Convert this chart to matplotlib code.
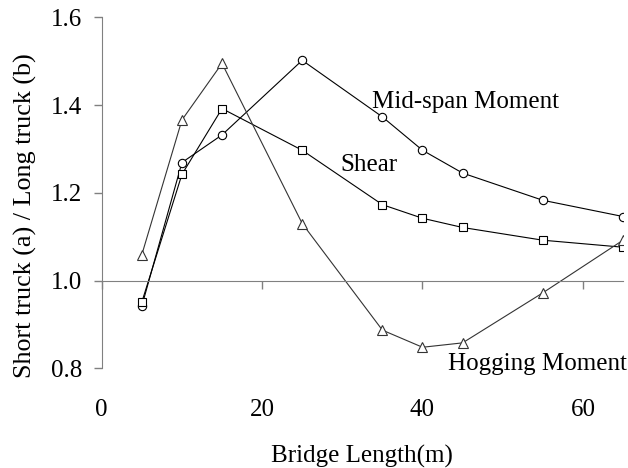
import numpy as np
import matplotlib
matplotlib.use('Agg')
import matplotlib.pyplot as plt

plt.rcParams['font.family'] = ['Liberation Serif', 'DejaVu Serif']

# bridge lengths (m)
length = [5, 10, 15, 25, 35, 40, 45, 55, 65]
# short truck / long truck ratio
midspan = [0.942, 1.269, 1.332, 1.502, 1.373, 1.297, 1.245, 1.183, 1.146]
shear = [0.951, 1.242, 1.392, 1.297, 1.173, 1.142, 1.121, 1.092, 1.076]
hogging = [1.059, 1.366, 1.495, 1.130, 0.887, 0.848, 0.858, 0.972, 1.092]

fig = plt.figure(figsize=(6.28, 4.68), dpi=100)
ax = fig.add_axes([0.162, 0.213, 0.830, 0.750])

ax.plot(length, midspan, '-o', color='black', lw=0.8, ms=6, mfc='white', mew=0.8)
ax.plot(length, shear, '-s', color='black', lw=0.8, ms=5.5, mfc='white', mew=0.8)
ax.plot(length, hogging, '-^', color='#333333', lw=0.8, ms=6.5, mfc='white', mew=0.8)

ax.text(33.7, 1.406, 'Mid-span Moment', fontsize=18, va='center', ha='left')
ax.text(29.8, 1.264, 'Shear', fontsize=18, va='center', ha='left')
ax.text(43.2, 0.809, 'Hogging Moment', fontsize=18, va='center', ha='left')

ax.set_xlim(0, 65)
ax.set_ylim(0.8, 1.6)
ax.set_yticks([0.8, 1.0, 1.2, 1.4, 1.6])
ax.set_yticklabels(['0.8', '1.0', '1.2', '1.4', '1.6'])
ax.set_xticks([0, 20, 40, 60])

for s in ['top', 'right']:
    ax.spines[s].set_visible(False)
ax.spines['left'].set_color('#808080')
ax.spines['bottom'].set_color('#808080')
ax.spines['bottom'].set_position(('data', 1.0))
ax.patch.set_alpha(0)

ax.tick_params(axis='y', direction='out', length=6, width=1, colors='#808080',
               labelcolor='black', labelsize=18, pad=8)
ax.tick_params(axis='x', direction='out', length=6, width=1, colors='#808080',
               labelbottom=False)

# tick labels sit under the plot, not at the y=1 line
sec = ax.secondary_xaxis('bottom')
sec.set_xticks([0, 20, 40, 60])
sec.spines['bottom'].set_visible(False)
sec.tick_params(length=0, pad=22, labelsize=18)
sec.set_xlabel('Bridge Length(m)', fontsize=18, labelpad=17)

ax.set_ylabel('Short truck (a) / Long truck (b)', fontsize=18.8)
ax.yaxis.set_label_coords(-0.124, 0.435)

fig.savefig('out.png', dpi=100)
